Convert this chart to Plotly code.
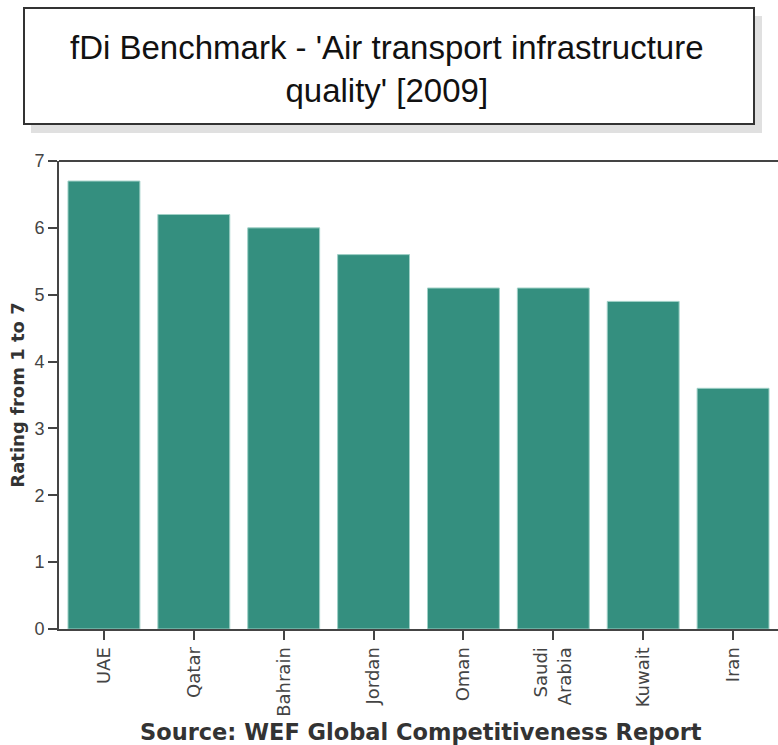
import plotly.graph_objects as go

countries = ["UAE", "Qatar", "Bahrain", "Jordan", "Oman", "Saudi<br>Arabia", "Kuwait", "Iran"]
ratings = [6.7, 6.2, 6.0, 5.6, 5.1, 5.1, 4.9, 3.6]

W, H = 778, 745
L, R, T, B = 59, 0, 161, 116
pw, ph = W - L - R, H - T - B


def px_x(x):
    return (x - L) / pw


def px_y(y):
    return (H - B - y) / ph


fig = go.Figure(go.Bar(
    x=countries, y=ratings,
    marker=dict(color="#348f7f", line=dict(color="#9fd0c6", width=1)),
    width=0.8,
))

shapes = [
    # title box shadow and box
    dict(type="rect", xref="paper", yref="paper", layer="below",
         x0=px_x(31), x1=px_x(762), y0=px_y(133), y1=px_y(16),
         fillcolor="#e0e0e0", line=dict(width=0)),
    dict(type="rect", xref="paper", yref="paper",
         x0=px_x(24), x1=px_x(754), y0=px_y(124), y1=px_y(8),
         fillcolor="white", line=dict(color="#333333", width=2)),
    # top border line of the plot area
    dict(type="line", xref="paper", yref="paper",
         x0=0, x1=1, y0=1, y1=1, line=dict(color="#444444", width=2)),
]

annotations = [
    dict(text="fDi Benchmark - 'Air transport infrastructure<br>quality' [2009]",
         xref="paper", yref="paper", x=px_x(387), y=px_y(69),
         xanchor="center", yanchor="middle", showarrow=False, align="center",
         font=dict(family="Liberation Sans, Arial", size=33, color="#111111")),
    dict(text="<b>Source: WEF Global Competitiveness Report</b>",
         xref="paper", yref="paper", x=px_x(421), y=px_y(732),
         xanchor="center", yanchor="middle", showarrow=False,
         font=dict(family="DejaVu Sans", size=22.5, color="#333333")),
]

fig.update_layout(
    width=W, height=H,
    margin=dict(l=L, r=R, t=T, b=B, pad=0),
    paper_bgcolor="white", plot_bgcolor="white",
    showlegend=False,
    bargap=0.2,
    shapes=shapes,
    annotations=annotations,
    xaxis=dict(
        range=[-0.5, 7.5], showgrid=False, showline=True,
        linecolor="#444444", linewidth=2,
        ticks="outside", ticklen=9, tickwidth=2, tickcolor="#444444",
        tickangle=-90, tickfont=dict(family="DejaVu Sans", size=18, color="#444444"),
    ),
    yaxis=dict(
        range=[0, 7], dtick=1, showgrid=False, showline=True,
        linecolor="#444444", linewidth=2,
        ticks="outside", ticklen=9, tickwidth=2, tickcolor="#444444",
        tickfont=dict(family="Liberation Sans, Arial", size=18, color="#444444"),
        title=dict(text="<b>Rating from 1 to 7</b>", standoff=5,
                   font=dict(family="DejaVu Sans", size=18, color="#333333")),
    ),
)

fig.write_html("out.html", config={"displayModeBar": False},
               post_script="document.body.style.margin = '0';")
